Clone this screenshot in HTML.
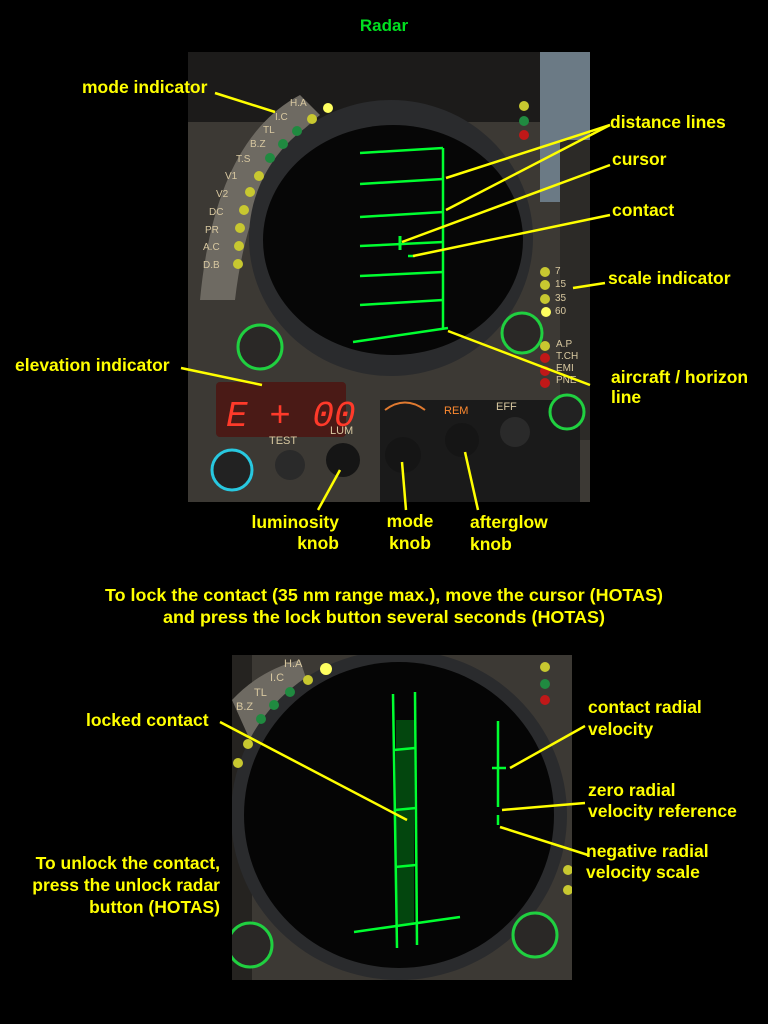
<!DOCTYPE html>
<html><head><meta charset="utf-8"><style>
html,body{margin:0;padding:0;background:#000;}
svg{display:block}
text{font-family:"Liberation Sans Narrow","Liberation Sans",sans-serif;font-weight:bold;fill:#ffff00;font-size:17.5px}
</style></head><body>
<svg width="768" height="1024" viewBox="0 0 768 1024" xmlns="http://www.w3.org/2000/svg">
<defs>
<clipPath id="c1"><rect x="188" y="52" width="402" height="450"/></clipPath>
<clipPath id="c2"><rect x="232" y="655" width="340" height="325"/></clipPath>
</defs>
<rect width="768" height="1024" fill="#000"/>
<text x="384" y="31" text-anchor="middle" style="fill:#00e020;font-size:17px">Radar</text>

<!-- TOP PHOTO -->
<g clip-path="url(#c1)">
<rect x="188" y="52" width="402" height="450" fill="#3c3934"/>
<rect x="188" y="52" width="402" height="70" fill="#1c1b1a"/>
<rect x="540" y="52" width="50" height="150" fill="#6b7a85"/>
<rect x="560" y="140" width="30" height="300" fill="#2c2a27"/>
<path d="M200 300 Q215 140 300 95 L320 115 Q250 170 235 300 Z" fill="#6e6a62"/>
<ellipse cx="391" cy="238" rx="142" ry="138" fill="#2a2b2d"/>
<ellipse cx="393" cy="240" rx="130" ry="115" fill="#060606"/>
<rect x="216" y="382" width="130" height="55" rx="4" fill="#4a1a16"/>
<text x="226" y="426" style="fill:#ff3a2a;font-size:36px;font-family:'Liberation Mono',monospace;font-weight:normal;font-style:italic">E + 00</text>
<rect x="380" y="400" width="200" height="102" fill="#1a1a1a"/>
<circle cx="232" cy="470" r="20" fill="#222" stroke="#28c8e0" stroke-width="3"/>
<circle cx="260" cy="347" r="22" fill="#2a2826" stroke="#20d040" stroke-width="3"/>
<circle cx="522" cy="333" r="20" fill="#2a2826" stroke="#20d040" stroke-width="3"/>
<circle cx="567" cy="412" r="17" fill="#222" stroke="#20d040" stroke-width="3"/>
<circle cx="290" cy="465" r="15" fill="#2a2a2a"/>
<circle cx="343" cy="460" r="17" fill="#151515"/>
<circle cx="403" cy="455" r="18" fill="#151515"/>
<circle cx="462" cy="440" r="17" fill="#151515"/>
<circle cx="515" cy="432" r="15" fill="#2a2a2a"/>
<path d="M385 410 Q405 395 425 410" stroke="#e07a30" stroke-width="2" fill="none"/>
<g style="font-size:10px;fill:#d8c8a0;font-weight:normal">
<text x="290" y="106" style="font-size:10px;fill:#d8c8a0;font-weight:normal">H.A</text><text x="275" y="120" style="font-size:10px;fill:#d8c8a0;font-weight:normal">I.C</text><text x="263" y="133" style="font-size:10px;fill:#d8c8a0;font-weight:normal">TL</text><text x="250" y="147" style="font-size:10px;fill:#d8c8a0;font-weight:normal">B.Z</text><text x="236" y="162" style="font-size:10px;fill:#d8c8a0;font-weight:normal">T.S</text><text x="225" y="179" style="font-size:10px;fill:#d8c8a0;font-weight:normal">V1</text><text x="216" y="197" style="font-size:10px;fill:#d8c8a0;font-weight:normal">V2</text><text x="209" y="215" style="font-size:10px;fill:#d8c8a0;font-weight:normal">DC</text><text x="205" y="233" style="font-size:10px;fill:#d8c8a0;font-weight:normal">PR</text><text x="203" y="250" style="font-size:10px;fill:#d8c8a0;font-weight:normal">A.C</text><text x="203" y="268" style="font-size:10px;fill:#d8c8a0;font-weight:normal">D.B</text>
<text x="555" y="274" style="font-size:10px;fill:#d8c8a0;font-weight:normal">7</text><text x="555" y="287" style="font-size:10px;fill:#d8c8a0;font-weight:normal">15</text><text x="555" y="301" style="font-size:10px;fill:#d8c8a0;font-weight:normal">35</text><text x="555" y="314" style="font-size:10px;fill:#d8c8a0;font-weight:normal">60</text>
<text x="556" y="347" style="font-size:10px;fill:#d8c8a0;font-weight:normal">A.P</text><text x="556" y="359" style="font-size:10px;fill:#d8c8a0;font-weight:normal">T.CH</text><text x="556" y="371" style="font-size:10px;fill:#d8c8a0;font-weight:normal">EMI</text><text x="556" y="383" style="font-size:10px;fill:#d8c8a0;font-weight:normal">PNE</text>
<text x="269" y="444" style="font-size:11px;fill:#d8c8a0;font-weight:normal">TEST</text><text x="330" y="434" style="font-size:11px;fill:#d8c8a0;font-weight:normal">LUM</text><text x="444" y="414" style="font-size:11px;fill:#ff8a30;font-weight:normal">REM</text><text x="496" y="410" style="font-size:11px;fill:#d8c8a0;font-weight:normal">EFF</text>
</g>
<g fill="#c8c830"><circle cx="328" cy="108" r="5" fill="#ffff60"/><circle cx="312" cy="119" r="5"/><circle cx="238" cy="264" r="5"/><circle cx="239" cy="246" r="5"/><circle cx="240" cy="228" r="5"/><circle cx="244" cy="210" r="5"/><circle cx="250" cy="192" r="5"/><circle cx="259" cy="176" r="5"/><circle cx="545" cy="272" r="5"/><circle cx="545" cy="285" r="5"/><circle cx="545" cy="299" r="5"/><circle cx="546" cy="312" r="5" fill="#ffff60"/><circle cx="524" cy="106" r="5"/><circle cx="545" cy="346" r="5"/></g>
<g fill="#208a40"><circle cx="297" cy="131" r="5"/><circle cx="283" cy="144" r="5"/><circle cx="270" cy="158" r="5"/><circle cx="524" cy="121" r="5"/></g>
<g fill="#c01818"><circle cx="524" cy="135" r="5"/><circle cx="545" cy="358" r="5"/><circle cx="545" cy="371" r="5"/><circle cx="545" cy="383" r="5"/></g>
<g stroke="#00ff30" stroke-width="2.5" fill="none">
<line x1="443" y1="148" x2="443" y2="329"/>
<line x1="360" y1="153" x2="443" y2="148"/>
<line x1="360" y1="184" x2="443" y2="179"/>
<line x1="360" y1="217" x2="443" y2="212"/>
<line x1="360" y1="246" x2="443" y2="242"/>
<line x1="360" y1="276" x2="443" y2="272"/>
<line x1="360" y1="305" x2="443" y2="300"/>
<line x1="353" y1="342" x2="448" y2="328"/>
<line x1="400" y1="236" x2="400" y2="250" stroke-width="3"/>
<line x1="408" y1="256" x2="415" y2="256"/>
</g>
</g>

<!-- BOTTOM PHOTO -->
<g clip-path="url(#c2)">
<rect x="232" y="655" width="340" height="325" fill="#3c3934"/>
<rect x="232" y="655" width="20" height="325" fill="#252320"/>
<path d="M232 700 Q260 670 300 660 L310 690 Q270 705 250 740 Z" fill="#6e6a62"/>
<ellipse cx="399" cy="815" rx="168" ry="165" fill="#2a2b2d"/>
<ellipse cx="399" cy="815" rx="155" ry="153" fill="#050505"/>
<circle cx="250" cy="945" r="22" fill="#2a2826" stroke="#20d040" stroke-width="3"/>
<circle cx="535" cy="935" r="22" fill="#2a2826" stroke="#20d040" stroke-width="3"/>
<text x="284" y="667" style="font-size:11px;fill:#d8c8a0;font-weight:normal">H.A</text><text x="270" y="681" style="font-size:11px;fill:#d8c8a0;font-weight:normal">I.C</text><text x="254" y="696" style="font-size:11px;fill:#d8c8a0;font-weight:normal">TL</text><text x="236" y="710" style="font-size:11px;fill:#d8c8a0;font-weight:normal">B.Z</text>
<circle cx="326" cy="669" r="6" fill="#ffff60"/><circle cx="308" cy="680" r="5" fill="#c8c830"/>
<g fill="#208a40"><circle cx="290" cy="692" r="5"/><circle cx="274" cy="705" r="5"/><circle cx="261" cy="719" r="5"/><circle cx="545" cy="684" r="5"/></g>
<g fill="#c8c830"><circle cx="248" cy="744" r="5"/><circle cx="238" cy="763" r="5"/><circle cx="545" cy="667" r="5"/><circle cx="568" cy="870" r="5"/><circle cx="568" cy="890" r="5"/></g>
<circle cx="545" cy="700" r="5" fill="#c01818"/>
<rect x="396" y="720" width="18" height="205" fill="#00c020" opacity="0.35"/>
<g stroke="#00ff30" stroke-width="2.5" fill="none">
<line x1="393" y1="694" x2="397" y2="948"/>
<line x1="415" y1="692" x2="417" y2="945"/>
<line x1="394" y1="750" x2="415" y2="748"/>
<line x1="395" y1="810" x2="416" y2="808"/>
<line x1="395" y1="867" x2="416" y2="865"/>
<line x1="354" y1="932" x2="460" y2="917"/>
<line x1="498" y1="721" x2="498" y2="807"/>
<line x1="492" y1="768" x2="506" y2="768"/>
<line x1="498" y1="815" x2="498" y2="825"/>
</g>
</g>

<!-- CONNECTORS -->
<g stroke="#ffff00" stroke-width="2.5" fill="none">
<line x1="215" y1="93" x2="275" y2="112"/>
<line x1="610" y1="125" x2="446" y2="178"/>
<line x1="610" y1="125" x2="446" y2="210"/>
<line x1="610" y1="165" x2="402" y2="242"/>
<line x1="610" y1="215" x2="413" y2="256"/>
<line x1="605" y1="283" x2="573" y2="288"/>
<line x1="181" y1="368" x2="262" y2="385"/>
<line x1="448" y1="331" x2="590" y2="385"/>
<line x1="340" y1="470" x2="318" y2="510"/>
<line x1="402" y1="462" x2="406" y2="510"/>
<line x1="465" y1="452" x2="478" y2="510"/>
<line x1="220" y1="722" x2="407" y2="820"/>
<line x1="585" y1="726" x2="510" y2="768"/>
<line x1="585" y1="803" x2="502" y2="810"/>
<line x1="588" y1="855" x2="500" y2="827"/>
</g>

<!-- LABELS -->
<text x="82" y="93">mode indicator</text>
<text x="610" y="128">distance lines</text>
<text x="612" y="165">cursor</text>
<text x="612" y="216">contact</text>
<text x="608" y="284">scale indicator</text>
<text x="15" y="371">elevation indicator</text>
<text x="611" y="383">aircraft / horizon</text>
<text x="611" y="403">line</text>
<text x="339" y="528" text-anchor="end">luminosity</text>
<text x="339" y="549" text-anchor="end">knob</text>
<text x="410" y="527" text-anchor="middle">mode</text>
<text x="410" y="549" text-anchor="middle">knob</text>
<text x="470" y="528">afterglow</text>
<text x="470" y="550">knob</text>
<text x="384" y="601" text-anchor="middle" textLength="558" lengthAdjust="spacingAndGlyphs">To lock the contact (35 nm range max.), move the cursor (HOTAS)</text>
<text x="384" y="623" text-anchor="middle" textLength="442" lengthAdjust="spacingAndGlyphs">and press the lock button several seconds (HOTAS)</text>
<text x="86" y="726">locked contact</text>
<text x="588" y="713">contact radial</text>
<text x="588" y="735">velocity</text>
<text x="588" y="796">zero radial</text>
<text x="588" y="817">velocity reference</text>
<text x="586" y="857">negative radial</text>
<text x="586" y="878">velocity scale</text>
<text x="220" y="869" text-anchor="end">To unlock the contact,</text>
<text x="220" y="891" text-anchor="end">press the unlock radar</text>
<text x="220" y="913" text-anchor="end">button (HOTAS)</text>
</svg>
</body></html>
